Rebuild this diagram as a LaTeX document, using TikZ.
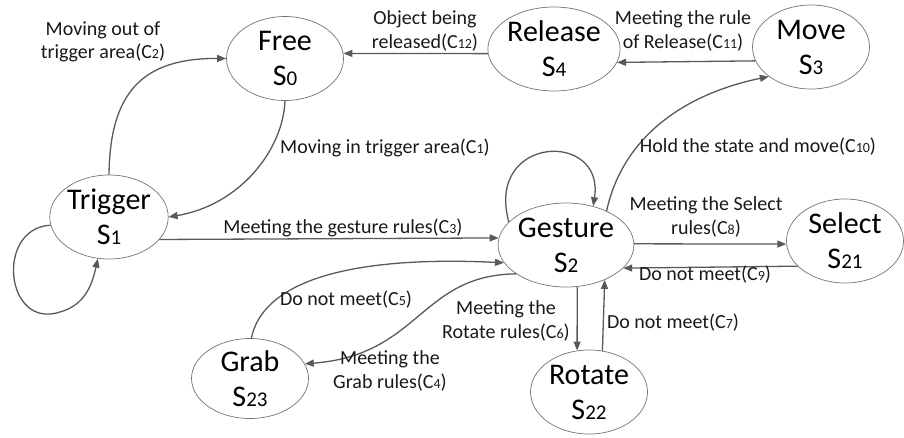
\documentclass[tikz,border=0pt]{standalone}
\usepackage{fontspec}
\setmainfont{Carlito}
\usetikzlibrary{shapes.geometric,arrows.meta}
\newcommand{\lo}[1]{\scalebox{0.7}{#1}}

\begin{document}
\begin{tikzpicture}[x=1pt, y=-1pt, align=center,
    state/.style={draw=black!55, line width=0.7pt, ellipse, inner sep=0pt,
      minimum width=117pt, minimum height=84pt, font=\fontsize{30}{35}\selectfont},
    link/.style={draw=black!65, line width=1.3pt, -{Triangle[length=9pt,width=7pt]}},
    lbl/.style={font=\fontsize{20}{23.5}\selectfont, text=black!90, inner sep=0pt}]
      \useasboundingbox (0,0) rectangle (904,437);
      % states
      \node[state] (free) at (285,58.5) {Free\\S\lo{0}};
      \node[state] (rel) at (554,49) {Release\\S\lo{4}};
      \node[state] (move) at (811,47) {Move\\S\lo{3}};
      \node[state] (trg) at (109,217) {Trigger\\S\lo{1}};
      \node[state] (ges) at (566,245) {Gesture\\S\lo{2}};
      \node[state] (sel) at (845,241) {Select\\S\lo{21}};
      \node[state, minimum height=80pt] (grab) at (250,378.5) {Grab\\S\lo{23}};
      \node[state] (rot) at (589,392) {Rotate\\S\lo{22}};
      %
      \draw[link] (trg.north) .. controls (110,95) and (140,58) .. (free.west);
      \draw[link] (free.south) .. controls (283,150) and (240,205) .. (trg.east);
      \draw[link] (trg.188) .. controls (-5,228) and (5,330) .. (60,312)
                  .. controls (85,305) and (92,285) .. (trg.255);
      \draw[link] (trg.-24) -- (ges.174);
      \draw[link] (ges.158) .. controls (485,135) and (605,130) .. (ges.55);
      \draw[link] (ges.40) .. controls (622,140) and (680,95) .. (move.215);
      \draw[link] (move.194) -- (rel.-12);
      \draw[link] (rel.184) -- (free.5);
      \draw[link] (ges.1) -- (sel.183);
      \draw[link] (sel.208) -- (ges.-22);
      \draw[link] (ges.285) -- (rot.106);
      \draw[link] (rot.72) -- (ges.318);
      \draw[link] (grab.88) .. controls (262,285) and (340,255) .. (ges.196);
      \draw[link] (ges.210) .. controls (420,275) and (420,355) .. (grab.15);
      % labels
      \node[lbl] (l2) at (103,42) {Moving out of\\trigger area(C\lo{2})};
      \node[lbl, anchor=west] (l1) at (280,148) {Moving in trigger area(C\lo{1})};
      \node[lbl] (l3) at (343,228) {Meeting the gesture rules(C\lo{3})};
      \node[lbl] (l12) at (425,31) {Object being\\released(C\lo{12})};
      \node[lbl] (l11) at (683,31) {Meeting the rule\\of Release(C\lo{11})};
      \node[lbl] (l10) at (758,147) {Hold the state and move(C\lo{10})};
      \node[lbl] (l8) at (706,217) {Meeting the Select\\rules(C\lo{8})};
      \node[lbl] (l9) at (705,275) {Do not meet(C\lo{9})};
      \node[lbl] (l6) at (506,321) {Meeting the\\Rotate rules(C\lo{6})};
      \node[lbl] (l7) at (673,323) {Do not meet(C\lo{7})};
      \node[lbl] (l5) at (346,300) {Do not meet(C\lo{5})};
      \node[lbl] (l4) at (390,371) {Meeting the\\Grab rules(C\lo{4})};
    \end{tikzpicture}
\end{document}
